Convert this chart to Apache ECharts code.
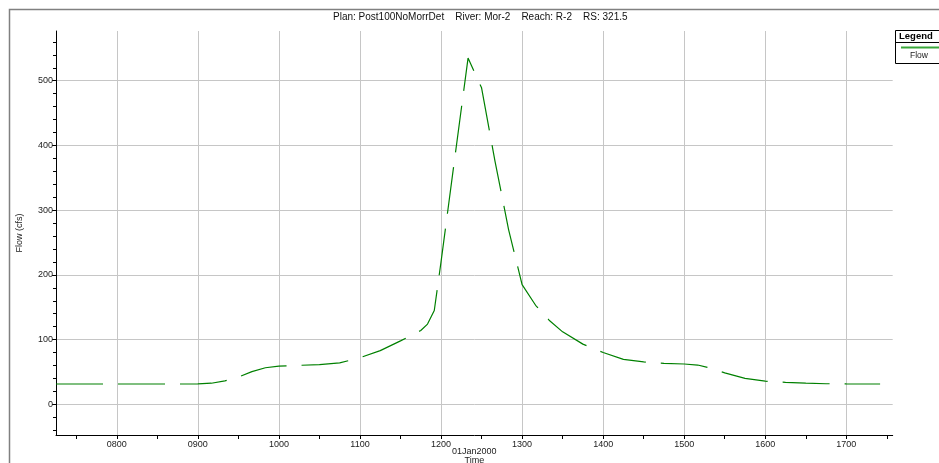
<!DOCTYPE html>
<html><head><meta charset="utf-8">
<script src="https://cdn.jsdelivr.net/npm/echarts@6/dist/echarts.min.js"></script>
<style>html,body{margin:0;padding:0;background:#fff;overflow:hidden}#c{width:939px;height:463px}</style>
</head><body><div id="c"></div>
<script>
// ---- data ----
const times = ['07:15','07:45','08:15','08:45','09:00','09:10','09:20','09:30','09:40','09:50',
  '10:00','10:15','10:30','10:45','11:00','11:15','11:30','11:45','11:50','11:55',
  '12:00','12:10','12:20','12:30','12:40','12:50','13:00','13:10','13:20','13:30',
  '13:45','14:00','14:15','14:30','14:45','15:00','15:10','15:20','15:30','15:45',
  '16:00','16:15','16:30','16:45','17:00','17:25'];
const flow = [31.4,31.4,31.4,31.4,31.6,32.6,36.2,42.0,50.5,56.5,
  59.0,60.3,61.2,64.0,72.0,83.0,98.0,114.0,124.0,145.0,
  220.0,378.0,535.0,489.0,375.0,270.0,185.0,153.0,130.0,112.0,
  93.0,80.0,69.5,65.5,63.3,62.3,60.7,55.5,48.5,40.0,
  35.8,34.0,32.6,31.8,31.5,31.4];
const xTickLabels = ['0800','0900','1000','1100','1200','1300','1400','1500','1600','1700'];
const yTickLabels = [0,100,200,300,400,500];
const seriesName = 'Flow';
const titleText = 'Plan: Post100NoMorrDet    River: Mor-2    Reach: R-2    RS: 321.5';

// ---- build ----
const toH = s => { const [h,m] = s.split(':').map(Number); return h + m/60; };
const points = times.map((t,i) => [toH(t), flow[i]]);
const hourVals = xTickLabels.map(s => Number(s.slice(0,2)));
const halfVals = hourVals.map(h => h - 0.5).concat([hourVals[hourVals.length-1] + 0.5]);
const minorY = []; for (let v = -40; v <= 560; v += 20) if (v % 100 !== 0) minorY.push(v);
const X_MIN = 7.25, X_MAX = 17.572, Y_MIN = -47.4, Y_MAX = 576.8;
const FONT = 'Liberation Sans';
const axisCol = '#000';

const chart = echarts.init(document.getElementById('c'), null, {renderer:'canvas'});
chart.setOption({
  animation: false,
  backgroundColor: '#fff',
  title: { text: titleText, left: 333, top: 12.5, padding: 0,
    textStyle: { fontFamily: FONT, fontSize: 10, fontWeight: 'normal', color: '#111' } },
  grid: { left: 56, right: 46.3, top: 31, bottom: 28, containLabel: false, outerBoundsMode: 'none' },
  xAxis: [{
    type: 'value', min: X_MIN, max: X_MAX, position: 'bottom',
    axisLine: { show: true, onZero: false, lineStyle: { color: axisCol, width: 1 } },
    axisTick: { show: true, customValues: hourVals, length: 4, lineStyle: { color: axisCol } },
    axisLabel: { customValues: hourVals, formatter: v => xTickLabels[hourVals.indexOf(Math.round(v))] || '',
      fontFamily: FONT, fontSize: 9, color: '#222', margin: 5 },
    splitLine: { show: true, lineStyle: { color: '#c6c6c6', width: 1 } },
    name: '01Jan2000\nTime', nameLocation: 'middle', nameGap: 12, nameMoveOverlap: false,
    nameTextStyle: { fontFamily: FONT, fontSize: 9, color: '#222', lineHeight: 9 }
  },{
    type: 'value', min: X_MIN, max: X_MAX, position: 'bottom', offset: 0,
    axisLine: { show: false, onZero: false },
    axisTick: { show: true, customValues: halfVals, length: 4, lineStyle: { color: axisCol } },
    axisLabel: { show: false }, splitLine: { show: false }
  }],
  yAxis: [{
    type: 'value', min: Y_MIN, max: Y_MAX, position: 'left',
    axisLine: { show: true, onZero: false, lineStyle: { color: axisCol, width: 1 } },
    axisTick: { show: true, customValues: yTickLabels, length: 4, lineStyle: { color: axisCol } },
    axisLabel: { customValues: yTickLabels, fontFamily: FONT, fontSize: 9, color: '#222', margin: 3 },
    splitLine: { show: true, lineStyle: { color: '#c6c6c6', width: 1 } },
    name: 'Flow (cfs)', nameLocation: 'middle', nameRotate: 90, nameGap: 32, nameMoveOverlap: false,
    nameTextStyle: { fontFamily: FONT, fontSize: 9, color: '#222' }
  },{
    type: 'value', min: Y_MIN, max: Y_MAX, position: 'left', offset: 0,
    axisLine: { show: false, onZero: false },
    axisTick: { show: true, customValues: minorY, length: 3, lineStyle: { color: axisCol } },
    axisLabel: { show: false }, splitLine: { show: false }
  }],
  series: [{
    name: seriesName, type: 'line', xAxisIndex: 0, yAxisIndex: 0,
    data: points, showSymbol: false, smooth: false,
    lineStyle: { color: '#008000', width: 1.2, type: [47, 15] }
  }],
  graphic: [
    { type: 'rect', shape: { x: 9.5, y: 9.5, width: 1000, height: 1000 },
      style: { fill: 'none', stroke: '#808080', lineWidth: 1.5 }, silent: true },
    { type: 'rect', shape: { x: 895.5, y: 30.5, width: 60, height: 33 },
      style: { fill: '#fff', stroke: '#000', lineWidth: 1 }, silent: true },
    { type: 'line', shape: { x1: 895.5, y1: 42.5, x2: 955, y2: 42.5 },
      style: { stroke: '#000', lineWidth: 1 }, silent: true },
    { type: 'text', x: 899, y: 31.5,
      style: { text: 'Legend', fontFamily: FONT, fontSize: 9.5, fontWeight: 'bold', fill: '#000', letterSpacing: 1 } },
    { type: 'line', shape: { x1: 901, y1: 47.5, x2: 950, y2: 47.5 },
      style: { stroke: '#3aa83a', lineWidth: 2 }, silent: true },
    { type: 'text', x: 910, y: 51.5,
      style: { text: seriesName, fontFamily: FONT, fontSize: 8.5, fill: '#222' } }
  ]
});
</script></body></html>
